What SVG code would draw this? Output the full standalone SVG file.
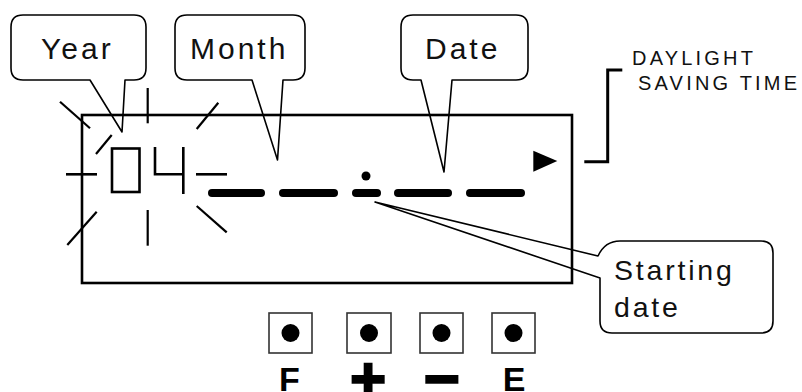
<svg xmlns="http://www.w3.org/2000/svg" width="802" height="392" viewBox="0 0 802 392">
<style>
  .bub { fill: none; stroke: #000; stroke-width: 1.6; stroke-linejoin: round; }
  .lbl { font-family: "Liberation Sans", Arial, sans-serif; fill: #111; }
  .big { font-size: 30px; letter-spacing: 3px; }
  .small { font-size: 20px; letter-spacing: 3.2px; }
  .seg { stroke: #000; stroke-width: 2.6; fill: none; stroke-linecap: butt; }
  .spark { stroke: #000; stroke-width: 2.2; fill: none; }
  .dash { stroke: #000; stroke-width: 8; stroke-linecap: round; }
  .btn { fill: #fff; stroke: #333; stroke-width: 1.6; }
  .key { font-family: "Liberation Sans", Arial, sans-serif; font-weight: bold; fill: #000; text-anchor: middle; }
</style>
<rect width="802" height="392" fill="#fff"/>

<g id="display">
  <rect x="82" y="115" width="490" height="168" fill="none" stroke="#000" stroke-width="2.6"/>
  <!-- year digits 04 -->
  <rect class="seg" x="112" y="148.5" width="27.5" height="43.5"/>
  <polyline class="seg" points="155,147 155,174.3 183.3,174.3"/>
  <line class="seg" x1="183.3" y1="147" x2="183.3" y2="194"/>
  <line class="seg" x1="66" y1="174.3" x2="97" y2="174.3"/>
  <line class="seg" x1="196" y1="174.3" x2="227" y2="174.3"/>
  <!-- flashing rays -->
  <line class="spark" x1="147.7" y1="88" x2="147.7" y2="123.3"/>
  <line class="spark" x1="147.7" y1="210" x2="147.7" y2="245.7"/>
  <line class="spark" x1="60" y1="101.7" x2="90" y2="128.3"/>
  <line class="spark" x1="96" y1="154" x2="111.7" y2="135"/>
  <line class="spark" x1="196.7" y1="129" x2="218.3" y2="102.7"/>
  <line class="spark" x1="67.3" y1="245" x2="96.7" y2="211.7"/>
  <line class="spark" x1="196.7" y1="206" x2="226.7" y2="232.3"/>
  <!-- month/date dashes -->
  <line class="dash" x1="212" y1="193" x2="261" y2="193"/>
  <line class="dash" x1="283" y1="193" x2="334" y2="193"/>
  <line class="dash" x1="356" y1="193" x2="377" y2="193"/>
  <line class="dash" x1="398" y1="193" x2="448" y2="193"/>
  <line class="dash" x1="470" y1="193" x2="521" y2="193"/>
  <circle cx="366" cy="176" r="4.5" fill="#000"/>
  <!-- DST indicator -->
  <polygon points="533.3,150.7 557.3,161 533.3,171.7" fill="#000"/>
</g>

<g id="bubble-year">
  <path class="bub" d="M23,15 H134 Q146,15 146,27 V68 Q146,80 134,80 H125 L122,132 L90,80 H23 Q11,80 11,68 V27 Q11,15 23,15 Z"/>
  <text class="lbl big" x="41" y="58.5">Year</text>
</g>

<g id="bubble-month">
  <path class="bub" d="M187,15 H293 Q305,15 305,27 V68 Q305,80 293,80 H283 L277.5,160 L252,80 H187 Q175,80 175,68 V27 Q175,15 187,15 Z"/>
  <text class="lbl big" x="190" y="58.5">Month</text>
</g>

<g id="bubble-date">
  <path class="bub" d="M413,15 H516 Q528,15 528,27 V68 Q528,80 516,80 H452 L444,172 L421,80 H413 Q401,80 401,68 V27 Q401,15 413,15 Z"/>
  <text class="lbl big" x="425" y="58.5">Date</text>
</g>

<g id="bubble-start">
  <path class="bub" d="M598,256 Q605,241 620,241 H761 Q773,241 773,253 V321 Q773,333 761,333 H612 Q600,333 600,321 V278 L375,202 Z"/>
  <text class="lbl" font-size="28.5" letter-spacing="2.8" x="614" y="280">Starting</text>
  <text class="lbl" font-size="28.5" letter-spacing="2.8" x="614" y="317">date</text>
</g>

<g id="dst-label">
  <text class="lbl small" x="632" y="64.5">DAYLIGHT</text>
  <text class="lbl small" x="638" y="90">SAVING TIME</text>
</g>

<g id="connectors">
  <polyline points="622.3,70 607.7,70 607.7,161.7 584.3,161.7" fill="none" stroke="#000" stroke-width="3"/>
</g>

<g id="button-f">
  <rect class="btn" x="269" y="313" width="43" height="40"/>
  <circle cx="290.5" cy="333" r="9" fill="#000"/>
  <text class="key" x="289.5" y="391" font-size="34">F</text>
</g>
<g id="button-plus">
  <rect class="btn" x="347" y="313" width="44" height="40"/>
  <circle cx="369" cy="333" r="9" fill="#000"/>
  <text class="key" x="368" y="400" font-size="62" stroke="#000" stroke-width="2">+</text>
</g>
<g id="button-minus">
  <rect class="btn" x="420" y="313" width="43" height="40"/>
  <circle cx="441.5" cy="333" r="9" fill="#000"/>
  <text class="key" x="441.5" y="400" font-size="62" stroke="#000" stroke-width="2">−</text>
</g>
<g id="button-e">
  <rect class="btn" x="492" y="313" width="43" height="40"/>
  <circle cx="513.5" cy="333" r="9" fill="#000"/>
  <text class="key" x="514" y="391" font-size="34">E</text>
</g>
</svg>
